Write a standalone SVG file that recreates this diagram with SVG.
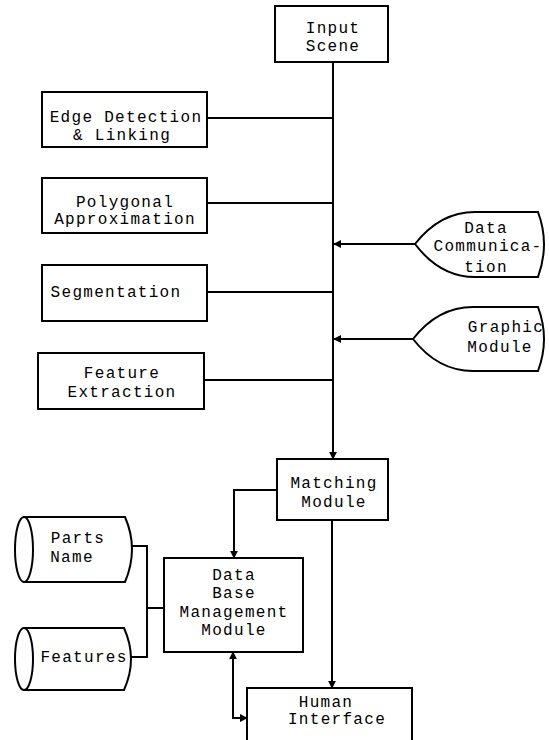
<svg xmlns="http://www.w3.org/2000/svg" width="549" height="740" viewBox="0 0 549 740">
<style>
.b{fill:#fff;stroke:#000;stroke-width:2}
.t{font-family:"Liberation Mono","DejaVu Sans Mono",monospace;font-size:16px;letter-spacing:1.3px;fill:#000;text-anchor:middle}
.c{fill:none;stroke:#000;stroke-width:2}
</style>
<defs>
<marker id="a" viewBox="0 0 10 10" refX="9" refY="5" markerWidth="4" markerHeight="4" orient="auto"><path d="M0,0 L10,5 L0,10 Z" fill="#000"/></marker>
</defs>
<rect width="549" height="740" fill="#fff"/>
<g id="connectors">
<path class="c" d="M333,62 V459" marker-end="url(#a)"/>
<path class="c" d="M207,118 H333"/>
<path class="c" d="M207,203 H333"/>
<path class="c" d="M207,292 H333"/>
<path class="c" d="M204,380 H333"/>
<path class="c" d="M415,244 H334" marker-end="url(#a)"/>
<path class="c" d="M413,339 H334" marker-end="url(#a)"/>
<path class="c" d="M277,490 H234 V558" marker-end="url(#a)"/>
<path class="c" d="M332,520 V688" marker-end="url(#a)"/>
<path class="c" d="M233,700 V652" marker-end="url(#a)"/>
<path class="c" d="M233,700 V718 H247" marker-end="url(#a)"/>
<path class="c" d="M132,546 H147 V657 H131"/>
<path class="c" d="M147,608 H164"/>
</g>
<g id="input-scene"><rect class="b" x="275" y="6" width="113" height="56"/><text class="t" x="333" y="33">Input</text><text class="t" x="333" y="51">Scene</text></g>
<g id="edge-detection"><rect class="b" x="42" y="92" width="165" height="55"/><text class="t" x="126" y="122">Edge Detection</text><text class="t" x="122" y="140">&amp; Linking</text></g>
<g id="polygonal"><rect class="b" x="42" y="178" width="165" height="55"/><text class="t" x="125" y="207">Polygonal</text><text class="t" x="125" y="224">Approximation</text></g>
<g id="segmentation"><rect class="b" x="42" y="265" width="165" height="56"/><text class="t" x="116" y="297">Segmentation</text></g>
<g id="feature-extraction"><rect class="b" x="38" y="353" width="166" height="56"/><text class="t" x="122" y="378">Feature</text><text class="t" x="122" y="397">Extraction</text></g>
<g id="data-communication"><path class="b" d="M415,244 Q440,212 475,212 L538,212 Q550,244 538,277 L475,277 Q440,277 415,244 Z"/><text class="t" x="486" y="233">Data</text><text class="t" x="488" y="251">Communica-</text><text class="t" x="486" y="272">tion</text></g>
<g id="graphic-module"><path class="b" d="M413,339 Q438,307 473,307 L538,307 Q550,339 538,371 L473,371 Q438,371 413,339 Z"/><text class="t" x="506" y="332">Graphic</text><text class="t" x="500" y="352">Module</text></g>
<g id="matching-module"><rect class="b" x="277" y="459" width="111" height="61"/><text class="t" x="334" y="488">Matching</text><text class="t" x="334" y="507">Module</text></g>
<g id="parts-name"><path class="b" d="M24,517 H125 Q139,549 125,582 H24 Z"/><ellipse class="b" cx="24" cy="549.5" rx="9" ry="32.5"/><text class="t" x="78" y="543">Parts</text><text class="t" x="72" y="562">Name</text></g>
<g id="features"><path class="b" d="M24,628 H124 Q138,659 124,690 H24 Z"/><ellipse class="b" cx="24" cy="659" rx="9" ry="31"/><text class="t" x="84" y="662">Features</text></g>
<g id="db-management"><rect class="b" x="164" y="558" width="139" height="94"/><text class="t" x="234" y="580">Data</text><text class="t" x="234" y="598">Base</text><text class="t" x="234" y="617">Management</text><text class="t" x="234" y="635">Module</text></g>
<g id="human-interface"><rect class="b" x="247" y="688" width="165" height="60"/><text class="t" x="326" y="707">Human</text><text class="t" x="337" y="724">Interface</text></g>
</svg>
